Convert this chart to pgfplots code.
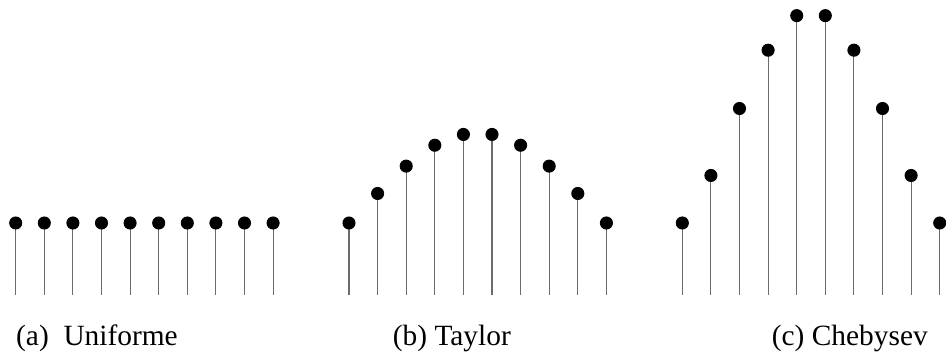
\documentclass[border=0pt]{standalone}
\usepackage{pgfplots}
\pgfplotsset{compat=1.18}
\usepackage{fontspec}
\setmainfont{Liberation Serif}

% Element weights of a 10-element array (uniform weight = 1)
\pgfplotstableread{
n  w
0  1
1  1
2  1
3  1
4  1
5  1
6  1
7  1
8  1
9  1
}\uniforme
\pgfplotstableread{
n  w
0  1.00
1  1.41
2  1.79
3  2.08
4  2.23
5  2.23
6  2.08
7  1.79
8  1.41
9  1.00
}\taylor
\pgfplotstableread{
n  w
0  1.00
1  1.66
2  2.59
3  3.40
4  3.88
5  3.88
6  3.40
7  2.59
8  1.66
9  1.00
}\chebysev

\pgfplotsset{
  stem/.style={
    anchor=origin,
    x=28.6bp, y=72bp,
    xmin=0, xmax=9, ymin=0, ymax=4,
    enlargelimits=false,
    axis lines=none,
    ticks=none,
    clip=false,
  },
  stemplot/.style={
    ycomb, black!58, line width=1.1bp,
    mark=*, mark size=6pt,
    mark options={fill=black, draw=black},
  },
}

\begin{document}
\begin{tikzpicture}[x=1bp, y=1bp]
\useasboundingbox (0,0) rectangle (946,352);

\begin{axis}[stem, at={(15.7bp,57bp)}]
  \addplot[stemplot] table[x=n, y=w] {\uniforme};
\end{axis}

\begin{axis}[stem, at={(349bp,57bp)}]
  \addplot[stemplot] table[x=n, y=w] {\taylor};
\end{axis}

\begin{axis}[stem, at={(682.3bp,57bp)}]
  \addplot[stemplot] table[x=n, y=w] {\chebysev};
\end{axis}

\begingroup
\fontsize{29.5}{35}\selectfont
\node[anchor=base west, inner sep=0pt] at (16,7) {(a)\ \ Uniforme};
\node[anchor=base west, inner sep=0pt] at (392.7,7) {(b) Taylor};
\node[anchor=base west, inner sep=0pt] at (771.7,7) {(c) Chebysev};
\endgroup
\end{tikzpicture}
\end{document}
